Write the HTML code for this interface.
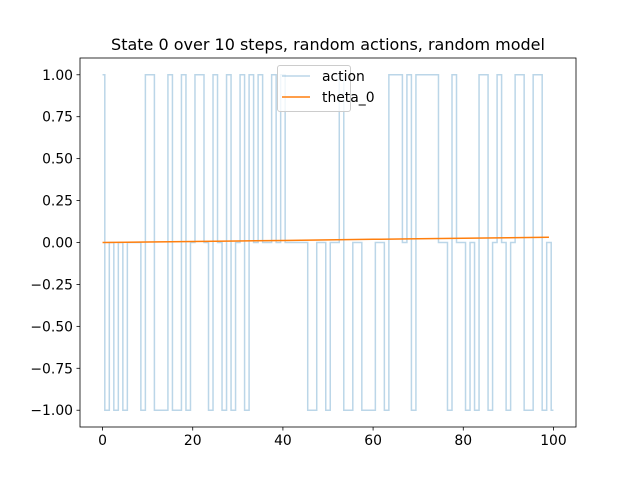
<!DOCTYPE html>
<html><head><meta charset="utf-8"><style>
body{margin:0;background:#fff}
svg{display:block;font-family:"DejaVu Sans","Liberation Sans",sans-serif}
</style></head><body>
<svg id="chart" width="640" height="480" viewBox="0 0 640 480">
<rect width="640" height="480" fill="#fff"/>
<text x="328" y="50" font-size="16" text-anchor="middle" fill="#000">State 0 over 10 steps, random actions, random model</text>
<g id="plot"></g>
<g id="axes"></g>
</svg>
<script>
const actionValues=[1,-1,0,-1,0,-1,0,0,0,-1,
1,1,-1,-1,-1,1,-1,-1,1,-1,
0,1,1,0,-1,1,0,-1,1,-1,
0,1,-1,1,0,1,0,0,1,0,
1,0,0,0,0,0,-1,-1,0,0,
-1,0,0,1,-1,-1,0,0,-1,-1,
-1,0,0,-1,1,1,1,0,1,-1,
1,1,1,1,1,0,0,-1,1,0,
0,-1,0,-1,1,1,-1,0,1,0,
-1,0,1,1,-1,-1,1,1,-1,0,-1];
const thetaSteps=[0,10,20,30,40,50,60,70,80,90,99];
const thetaValues=[0,0.003,0.006,0.009,0.012,0.016,0.019,0.022,0.025,0.028,0.031];
const xTicks=[0,20,40,60,80,100];
const yTicks=[1,0.75,0.5,0.25,0,-0.25,-0.5,-0.75,-1];
const yTickLabels=["1.00","0.75","0.50","0.25","0.00","\u22120.25","\u22120.50","\u22120.75","\u22121.00"];

const L=80,R=576,T=58,B=427;
const xMin=-5,xMax=105,yMin=-1.1,yMax=1.1;
const X=v=>L+(v-xMin)/(xMax-xMin)*(R-L);
const Y=v=>B-(v-yMin)/(yMax-yMin)*(B-T);
const NS="http://www.w3.org/2000/svg";
function mk(tag,attrs,parent){const e=document.createElementNS(NS,tag);for(const k in attrs)e.setAttribute(k,attrs[k]);parent.appendChild(e);return e;}
const plot=document.getElementById('plot'),axes=document.getElementById('axes');

// action: steps-mid
let d="";
const n=actionValues.length;
for(let i=0;i<n;i++){
  const x0=i===0?0:i-0.5, x1=i===n-1?i:i+0.5;
  d+=(i===0?"M":"L")+X(x0).toFixed(2)+","+Y(actionValues[i]).toFixed(2)+"L"+X(x1).toFixed(2)+","+Y(actionValues[i]).toFixed(2);
}
const a=mk('path',{d:d,fill:'none',stroke:'#1f77b4','stroke-opacity':0.3,'stroke-width':1.5},plot);



let d2=thetaSteps.map((s,i)=>(i?"L":"M")+X(s).toFixed(2)+","+Y(thetaValues[i]).toFixed(2)).join("");
const t=mk('path',{d:d2,fill:'none',stroke:'#ff7f0e','stroke-width':1.5},plot);



const frame=mk('rect',{x:L,y:T,width:R-L,height:B-T,fill:'none',stroke:'#000','stroke-width':0.8},axes);



xTicks.forEach(v=>{
  const tk=mk('line',{x1:X(v),x2:X(v),y1:B,y2:B+3.5,stroke:'#000','stroke-width':0.8},axes);
  
  
  const lb=mk('text',{x:X(v),y:B+18,'font-size':13.9,'text-anchor':'middle',fill:'#000'},axes);
  lb.textContent=v;
  
  
});
yTicks.forEach((v,i)=>{
  const tk=mk('line',{x1:L-3.5,x2:L,y1:Y(v),y2:Y(v),stroke:'#000','stroke-width':0.8},axes);
  
  
  const lb=mk('text',{x:L-7,y:Y(v)+5,'font-size':13.9,'text-anchor':'end',fill:'#000'},axes);
  lb.textContent=yTickLabels[i];
  
  
});

// legend
const lg=mk('g',{},axes);


mk('rect',{x:277.5,y:65.5,width:73,height:46,rx:2.5,fill:'#fff','fill-opacity':0.8,stroke:'#ccc'},lg);
const e1=mk('line',{x1:282,x2:310,y1:76,y2:76,stroke:'#1f77b4','stroke-opacity':0.3,'stroke-width':1.5},lg);


const t1=mk('text',{x:322,y:81,'font-size':13.9,fill:'#000'},lg);t1.textContent='action';


const e2=mk('line',{x1:282,x2:310,y1:97,y2:97,stroke:'#ff7f0e','stroke-width':1.5},lg);


const t2=mk('text',{x:322,y:102,'font-size':13.9,fill:'#000'},lg);t2.textContent='theta_0';


</script>
</body></html>
